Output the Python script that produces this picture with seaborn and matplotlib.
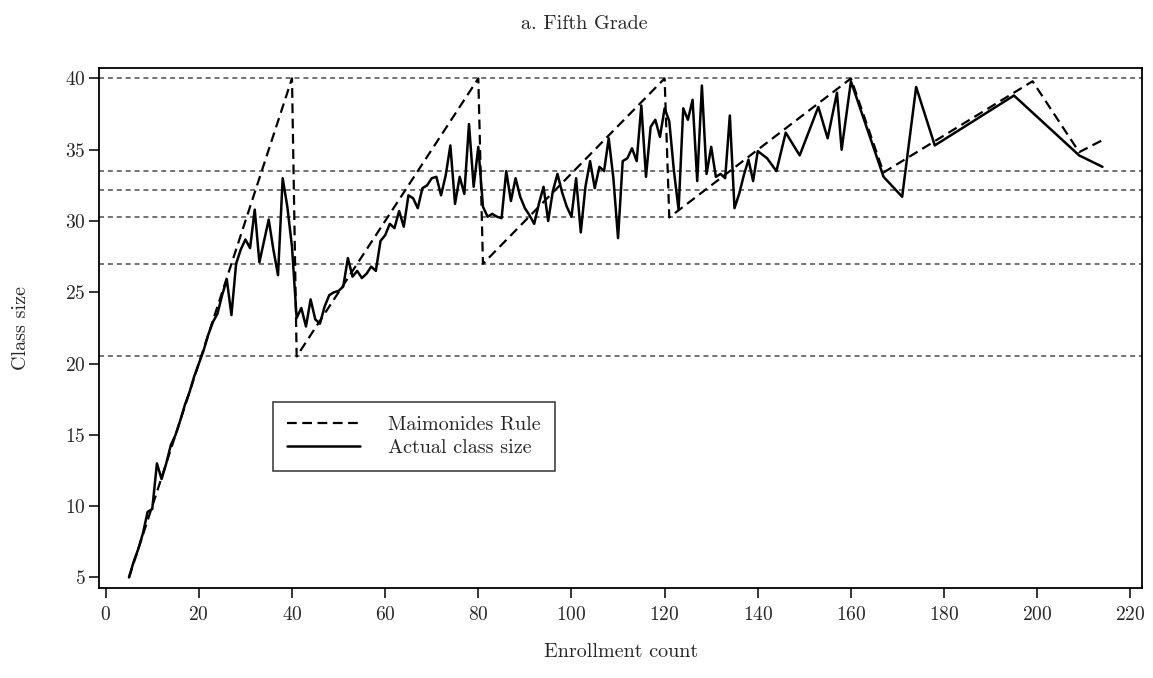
import matplotlib
matplotlib.use("Agg")
import matplotlib.pyplot as plt
from matplotlib.lines import Line2D
import seaborn as sns
import pandas as pd

# ---- data ----
enrollment = list(range(5, 141)) + [142, 144, 146, 149, 153, 155, 157, 158, 160,
                                    167, 171, 174, 178, 195, 209, 214]
class_size = [
    5.0, 6.1, 7.0, 8.1, 9.6, 9.8, 13.0, 11.9, 13.0, 14.3,          # 5-14
    15.0, 16.0, 17.1, 18.0, 19.1, 20.0, 20.9, 22.0, 22.9, 23.5,     # 15-24
    24.8, 25.9, 23.4, 27.0, 28.0, 28.7, 28.1, 30.8, 27.1, 28.6,     # 25-34
    30.1, 28.0, 26.2, 33.0, 31.0, 28.2, 23.2, 23.9, 22.6, 24.5,     # 35-44
    23.1, 22.8, 24.0, 24.8, 25.0, 25.1, 25.4, 27.4, 26.1, 26.5,     # 45-54
    26.0, 26.3, 26.8, 26.5, 28.6, 29.0, 29.8, 29.5, 30.7, 29.6,     # 55-64
    31.8, 31.6, 30.9, 32.3, 32.5, 33.0, 33.1, 31.8, 33.2, 35.3,     # 65-74
    31.2, 33.1, 31.9, 36.8, 32.4, 35.2, 31.0, 30.3, 30.5, 30.3,     # 75-84
    30.2, 33.5, 31.4, 33.0, 31.7, 30.9, 30.4, 29.8, 31.2, 32.4,     # 85-94
    30.0, 32.1, 33.3, 32.0, 31.0, 30.3, 33.0, 29.2, 32.4, 34.2,     # 95-104
    32.3, 33.8, 33.5, 35.8, 33.0, 28.8, 34.2, 34.4, 35.1, 34.2,     # 105-114
    38.1, 33.1, 36.6, 37.1, 35.9, 37.9, 37.0, 33.5, 30.8, 37.9,     # 115-124
    37.1, 38.5, 32.8, 39.5, 33.3, 35.2, 33.1, 33.3, 33.0, 37.4,     # 125-134
    30.9, 31.9, 33.2, 34.3, 32.8, 34.9,                             # 135-140
    34.4, 33.5, 36.2, 34.6, 38.0, 35.8, 39.0, 35.0, 39.8,           # 142-160
    33.1, 31.7, 39.4, 35.3, 38.8, 34.6, 33.8,                       # 167-214
]

rule_enrollment = [5, 40, 41, 80, 81, 120, 121, 160, 167, 199, 209, 214]
rule_size = [5, 40, 20.5, 40, 27, 40, 30.25, 40, 33.4, 39.8, 34.83, 35.67]

ref_levels = [40, 33.5, 32.2, 30.25, 27, 20.5]

x_ticks = list(range(0, 221, 20))
y_ticks = list(range(5, 41, 5))

title = "a. Fifth Grade"
x_label = "Enrollment count"
y_label = "Class size"
legend_labels = ["Maimonides Rule", "Actual class size"]

# ---- styling ----
sns.set_style("ticks")
plt.rcParams["font.family"] = ["cmr10", "DejaVu Serif"]
plt.rcParams["axes.formatter.use_mathtext"] = True
plt.rcParams["lines.scale_dashes"] = False

actual_df = pd.DataFrame({"enrollment": enrollment, "class_size": class_size})
rule_df = pd.DataFrame({"enrollment": rule_enrollment, "class_size": rule_size})

fig = plt.figure(figsize=(11.53, 6.78), dpi=100)
ax = fig.add_axes([0.086, 0.1327, 0.9045, 0.767])

for lvl in ref_levels:
    ax.axhline(lvl, color="0.3", lw=1.1, dashes=(3.6, 2.8), zorder=1)

sns.lineplot(data=rule_df, x="enrollment", y="class_size", ax=ax, color="black",
             lw=1.6, sort=False, estimator=None, legend=False, zorder=3)
ax.lines[-1].set_dashes((7, 4))
sns.lineplot(data=actual_df, x="enrollment", y="class_size", ax=ax, color="black",
             lw=1.8, sort=False, estimator=None, legend=False, zorder=4)

ax.set_xlim(-1.4, 222.5)
ax.set_ylim(4.26, 40.73)
ax.set_xticks(x_ticks)
ax.set_yticks(y_ticks)
ax.tick_params(axis="both", direction="out", length=7, width=1.1,
               labelsize=14, color="black")
ax.tick_params(axis="y", pad=3)
ax.tick_params(axis="x", pad=6)
for sp in ax.spines.values():
    sp.set_visible(True)
    sp.set_linewidth(1.3)
    sp.set_color("black")

ax.set_xlabel(x_label, fontsize=14.5)
ax.set_ylabel(y_label, fontsize=14.5)
ax.xaxis.set_label_coords(0.5, -0.105)
ax.yaxis.set_label_coords(-0.066, 0.5)
fig.text(0.507, 0.964, title, ha="center", va="center", fontsize=14.5)

handles = [Line2D([], [], color="black", lw=1.6, dashes=(7, 4)),
           Line2D([], [], color="black", lw=1.8)]
leg = ax.legend(handles, legend_labels, loc="upper left",
                bbox_to_anchor=(0.167, 0.358), borderaxespad=0,
                fontsize=14.5, handlelength=3.6, handletextpad=1.4,
                borderpad=0.7, labelspacing=0.25, frameon=True, fancybox=False)
leg.get_frame().set_edgecolor("black")
leg.get_frame().set_linewidth(1.1)

fig.savefig("out.png", dpi=100, facecolor="white")
